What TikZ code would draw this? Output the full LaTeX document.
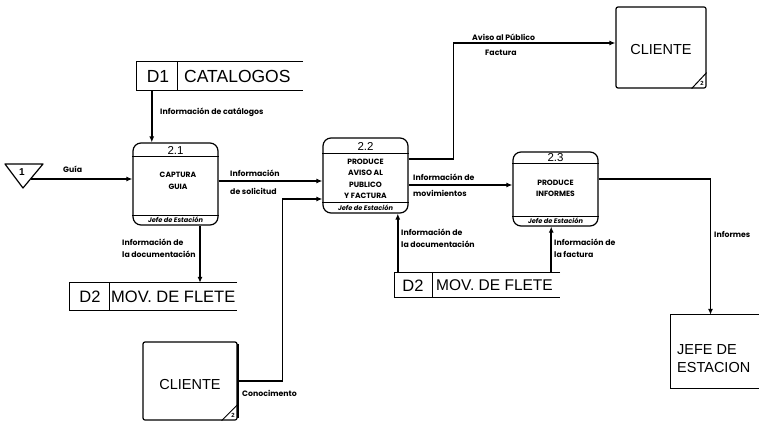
\documentclass[tikz,border=0pt]{standalone}
\usepackage{fontspec}
\setmainfont{Liberation Sans}
\newfontfamily\lblfont{Poppins}
\usetikzlibrary{arrows.meta}
\begin{document}
\begin{tikzpicture}[x=1pt,y=-1pt,
  flow/.style={line width=1.7pt,-{Latex[length=6pt,width=5pt]}},
  proc/.style={draw,line width=1.2pt,rounded corners=8pt,inner sep=0pt},
  sep/.style={line width=1pt},
  store/.style={line width=1pt},
  entity/.style={draw,line width=1.2pt,rounded corners=2pt,inner sep=0pt},
  frame/.style={inner sep=0pt},
  lbl/.style={inner sep=0pt,anchor=west,align=left,font=\lblfont\bfseries\fontsize{7.8}{12}\selectfont},
  ptxt/.style={inner sep=0pt,align=center,font=\lblfont\bfseries\fontsize{7.6}{11.4}\selectfont},
  pnum/.style={inner sep=0pt,font=\fontsize{11.5}{12}\selectfont},
  prole/.style={inner sep=0pt,font=\lblfont\bfseries\itshape\fontsize{6.6}{7}\selectfont},
  big/.style={inner sep=0pt,font=\fontsize{16.5}{18}\selectfont},
  ent/.style={inner sep=0pt,align=left,font=\fontsize{14.5}{18}\selectfont},
  corner/.style={inner sep=0pt,font=\bfseries\fontsize{6}{6}\selectfont}
]
\useasboundingbox (0,0) rectangle (759,425);

% ---------- external source 1 ----------
\draw[line width=1.2pt,line join=round] (5,164) -- (43,164) -- (23,188) -- cycle;
\node[inner sep=0pt,font=\bfseries\fontsize{10}{10}\selectfont] (t1num) at (22,172) {1};
\coordinate (t1) at (31,179);

% ---------- processes ----------
\node[proc,minimum width=85pt,minimum height=82pt] (p1) at (175.5,184) {};
\draw[sep] ([yshift=-14pt]p1.north west) -- ([yshift=-14pt]p1.north east);
\draw[sep] ([yshift=10pt]p1.south west) -- ([yshift=10pt]p1.south east);
\node[pnum] (p1num) at (175.5,150.5) {2.1};
\node[ptxt] (p1txt) at (178,181) {CAPTURA\\GUIA};
\node[prole] (p1role) at (175.5,220) {Jefe de Estación};

\node[proc,minimum width=85pt,minimum height=75pt] (p2) at (365.5,175.5) {};
\draw[sep] ([yshift=-16pt]p2.north west) -- ([yshift=-16pt]p2.north east);
\draw[sep] ([yshift=11pt]p2.south west) -- ([yshift=11pt]p2.south east);
\node[pnum] (p2num) at (365.5,146.5) {2.2};
\node[ptxt] (p2txt) at (365.5,179) {PRODUCE\\AVISO AL\\PUBLICO\\Y FACTURA};
\node[prole] (p2role) at (365.5,207.5) {Jefe de Estación};

\node[proc,minimum width=85pt,minimum height=74pt] (p3) at (555.5,189) {};
\draw[sep] ([yshift=-12pt]p3.north west) -- ([yshift=-12pt]p3.north east);
\draw[sep] ([yshift=10pt]p3.south west) -- ([yshift=10pt]p3.south east);
\node[pnum] (p3num) at (555.5,157.5) {2.3};
\node[ptxt] (p3txt) at (555.5,188.5) {PRODUCE\\INFORMES};
\node[prole] (p3role) at (555.5,221) {Jefe de Estación};

% ---------- data stores ----------
\node[frame,minimum width=166pt,minimum height=28pt] (d1) at (220,76) {};
\draw[store] (d1.north east) -- (d1.north west) -- (d1.south west) -- (d1.south east);
\draw[store] ([xshift=41pt]d1.north west) -- ([xshift=41pt]d1.south west);
\node[big,font=\fontsize{17.5}{18}\selectfont] (d1id) at (158,76.5) {D1};
\node[big,anchor=west,font=\fontsize{17.5}{18}\selectfont] (d1name) at (184,76.5) {CATALOGOS};

\node[frame,minimum width=167pt,minimum height=27pt] (d2a) at (153.5,296.5) {};
\draw[store] (d2a.north east) -- (d2a.north west) -- (d2a.south west) -- (d2a.south east);
\draw[store] ([xshift=40pt]d2a.north west) -- ([xshift=40pt]d2a.south west);
\node[big] (d2aid) at (90,297) {D2};
\node[big,anchor=west] (d2aname) at (111,297) {MOV. DE FLETE};

\node[frame,minimum width=165pt,minimum height=24pt] (d2b) at (477.5,285) {};
\draw[store] (d2b.north east) -- (d2b.north west) -- (d2b.south west) -- (d2b.south east);
\draw[store] ([xshift=38pt]d2b.north west) -- ([xshift=38pt]d2b.south west);
\node[big] (d2bid) at (413,285.5) {D2};
\node[big,anchor=west,font=\fontsize{15.5}{18}\selectfont] (d2bname) at (436,285.5) {MOV. DE FLETE};

% ---------- external entities ----------
\node[entity,minimum width=90pt,minimum height=81pt] (c1) at (661,47.5) {};
\node[ent,align=center] (c1txt) at (661,50) {CLIENTE};
\draw[line width=1pt] ([xshift=-15pt]c1.south east) -- ([yshift=16pt]c1.south east);
\node[corner] (c1n) at ([xshift=-4.5pt,yshift=5pt]c1.south east) {2};

\node[entity,minimum width=94pt,minimum height=78pt] (c2) at (190,381) {};
\draw[line width=2pt] ([yshift=-3pt]c2.north east) -- ([yshift=3pt]c2.south east);
\node[ent,align=center] (c2txt) at (190,385) {CLIENTE};
\draw[line width=1pt] ([xshift=-16pt]c2.south east) -- ([yshift=16pt]c2.south east);
\node[corner] (c2n) at ([xshift=-4.5pt,yshift=5pt]c2.south east) {2};

\node[frame,minimum width=89pt,minimum height=73pt] (j) at (715.5,351.5) {};
\draw[line width=1.2pt] (j.north east) -- (j.north west) -- (j.south west) -- (j.south east);
\node[ent,anchor=west] (jtxt) at (677,359) {JEFE DE\\ESTACION};

% ---------- data flows ----------
\draw[flow] (t1) -- (t1 -| p1.west);
\node[lbl] (lguia) at (63,169) {Guía};

\draw[flow] ([xshift=15pt]d1.south west) -- ([xshift=15pt]d1.south west |- p1.north);
\node[lbl] (lcat) at (160,112) {Información de catálogos};

\draw[flow] ([xshift=24.5pt]p1.south) -- ([xshift=24.5pt]p1.south |- d2a.north);
\node[lbl] (ldoc1) at (122,248) {Información de\\la documentación};

\draw[flow] ([yshift=3pt]p1.east) -- ([yshift=3pt]p1.east -| p2.west);
\node[lbl] (lsol1) at (230,173) {Información};
\node[lbl] (lsol2) at (230,191) {de solicitud};

\draw[flow] ([yshift=16.5pt]p2.east) -- ++(45,0) |- ([yshift=4.5pt]c1.west);
\node[lbl] (laviso) at (472,37) {Aviso al Público};
\node[lbl] (lfact) at (485,53) {Factura};

\draw[flow] ([yshift=-9.5pt]p2.east) -- ([yshift=-9.5pt]p2.east -| p3.west);
\node[lbl] (lmov1) at (413,177) {Información de};
\node[lbl] (lmov2) at (413,193) {movimientos};

\draw[flow] ([yshift=10pt]p3.east) -| ([xshift=-5pt]j.north);
\node[lbl] (linf) at (714,234) {Informes};

\draw[flow] ([xshift=3pt]d2b.north west) -- ([xshift=3pt]d2b.north west |- p2.south);
\node[lbl] (ldoc2) at (401,238) {Información de\\la documentación};

\draw[flow] ([xshift=-9pt]d2b.north east) -- ([xshift=-9pt]d2b.north east |- p3.south);
\node[lbl] (lfac2) at (554,248) {Información de\\la factura};

\draw[flow] (c2.east) -- ++(45,0) |- ([yshift=-23.5pt]p2.west);
\node[lbl] (lcon) at (242,393) {Conocimento};

\end{tikzpicture}
\end{document}
